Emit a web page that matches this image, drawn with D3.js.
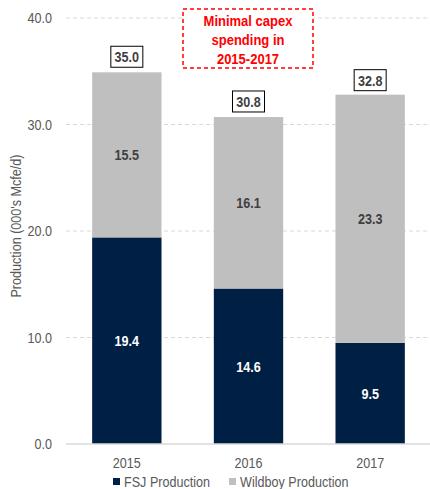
<!DOCTYPE html>
<html><head><meta charset="utf-8">
<script src="https://cdn.jsdelivr.net/npm/d3@7"></script>
<style>body{margin:0;background:#fff}svg{display:block;font-family:"Liberation Sans",Arial,sans-serif}</style>
</head><body><svg id="c" width="430" height="489"></svg>
<script>
const categories = ["2015","2016","2017"];
const fsj = [19.4, 14.6, 9.5];
const wildboy = [15.5, 16.1, 23.3];
const totals = [35.0, 30.8, 32.8];
const yTicks = [0, 10, 20, 30, 40];
const seriesNames = ["FSJ Production","Wildboy Production"];
const colors = ["#001f45","#bfbfbf"];

const SX = 0.84; // condensed look
const svg = d3.select("#c");
const x = d3.scaleBand().domain(categories).range([66,431]).paddingInner(0.43).paddingOuter(0.215);
const y = d3.scaleLinear().domain([0,40]).range([444,18]);

function txt(parent, px, py, s, o){
  o = o||{};
  return parent.append("text")
    .attr("transform",`translate(${px},${py}) ${o.rot?"rotate("+o.rot+") ":""}scale(${SX},1)`)
    .attr("text-anchor",o.anchor||"middle").attr("dy",o.dy||null)
    .attr("font-size",o.size||15).attr("font-weight",o.bold?"bold":null)
    .attr("fill",o.fill||"#595959").text(s);
}

// gridlines
svg.append("g").selectAll("line").data(yTicks.filter(d=>d>0)).join("line")
  .attr("x1",66).attr("x2",430).attr("y1",d=>y(d)).attr("y2",d=>y(d))
  .attr("stroke","#d9d9d9").attr("stroke-dasharray","4,3").attr("stroke-width",1);

// y axis labels via axis
const yAxis = d3.axisLeft(y).tickValues(yTicks).tickFormat(d3.format(".1f")).tickSize(0).tickPadding(0);
const ga = svg.append("g").attr("transform","translate(52,0)").call(yAxis);
ga.select(".domain").remove();
ga.selectAll("text").attr("x",0).attr("font-size",15).attr("fill","#595959")
  .attr("font-family","Liberation Sans, Arial, sans-serif").attr("transform",`scale(${SX},1)`);

// stacked bars
const rows = categories.map((c,i)=>({cat:c, fsj:fsj[i], wildboy:wildboy[i]}));
const stack = d3.stack().keys(["fsj","wildboy"])(rows);
const g = svg.append("g");
stack.forEach((s,si)=>{
  g.selectAll(".b"+si).data(s).join("rect")
    .attr("x",d=>x(d.data.cat)).attr("width",x.bandwidth())
    .attr("y",d=>y(d[1])).attr("height",d=>y(d[0])-y(d[1]))
    .attr("fill",colors[si]);
  s.forEach(d=>{
    txt(g, x(d.data.cat)+x.bandwidth()/2, (y(d[0])+y(d[1]))/2, (d[1]-d[0]).toFixed(1),
      {dy:"0.36em", bold:true, fill: si===0?"#ffffff":"#404040"});
  });
});

// baseline
svg.append("line").attr("x1",66).attr("x2",430).attr("y1",y(0)).attr("y2",y(0))
  .attr("stroke","#d9d9d9").attr("stroke-width",1.5);

// total labels with box
categories.forEach((c,i)=>{
  const cx = x(c)+x.bandwidth()/2, ty = y(totals[i]);
  svg.append("rect").attr("x",cx-16).attr("y",ty-25).attr("width",32).attr("height",21)
    .attr("fill","#fff").attr("stroke","#000").attr("stroke-width",1);
  txt(svg, cx, ty-14.5, totals[i].toFixed(1), {dy:"0.36em", bold:true, fill:"#404040"});
});

// x labels
categories.forEach(c=> txt(svg, x(c)+x.bandwidth()/2, 468, c));

// y title
txt(svg, 21, 226, "Production (000's Mcfe/d)", {rot:-90});

// legend
const lg = [{x:113,name:seriesNames[0],c:colors[0]},{x:229,name:seriesNames[1],c:colors[1]}];
lg.forEach(l=>{
  svg.append("rect").attr("x",l.x).attr("y",478).attr("width",7).attr("height",7).attr("fill",l.c);
  txt(svg, l.x+11, 487, l.name, {anchor:"start"});
});

// annotation
svg.append("rect").attr("x",183).attr("y",9).attr("width",130).attr("height",59)
  .attr("fill","#fff").attr("stroke","#ff0000").attr("stroke-width",1.5).attr("stroke-dasharray","4,3");
["Minimal capex","spending in","2015-2017"].forEach((t,i)=>{
  txt(svg, 248, 20.5+i*19, t, {dy:"0.36em", bold:true, size:15.5, fill:"#ff0000"});
});
</script></body></html>
